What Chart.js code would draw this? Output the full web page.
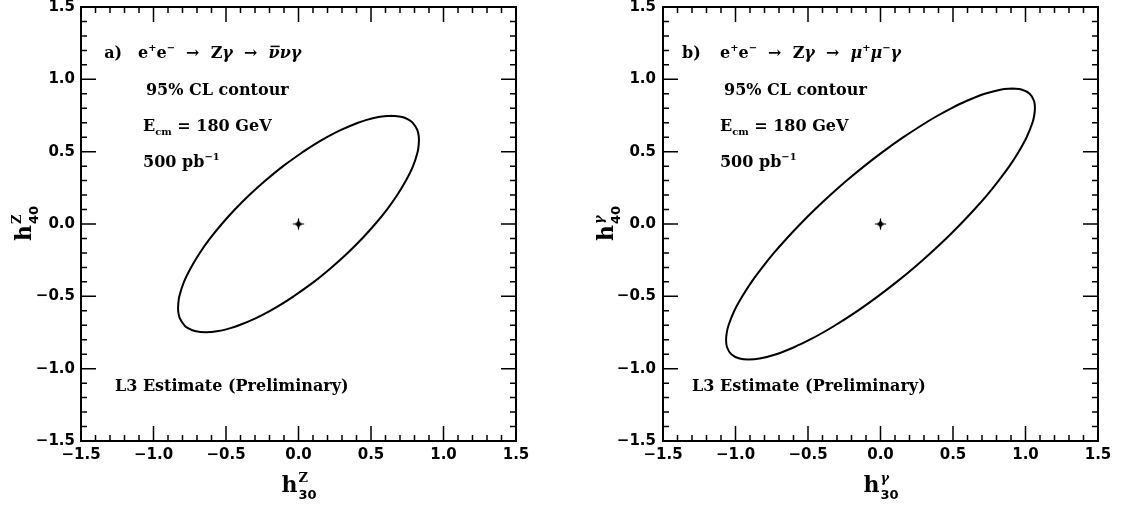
<!DOCTYPE html>
<html>
<head>
<meta charset="utf-8">
<script src="https://cdn.jsdelivr.net/npm/chart.js@4.4.1/dist/chart.umd.min.js"></script>
<style>
  body { margin: 0; background: #fff; width: 1125px; height: 512px; overflow: hidden; position: relative; }
  canvas { position: absolute; top: 0; }
</style>
</head>
<body>
<canvas id="grafico_z" width="562" height="512" style="left:0px"></canvas>
<canvas id="grafico_gama" width="563" height="512" style="left:562px"></canvas>
<script>
// Valores dos eixos (iguais nos dois paineis)
const ticksEixo = [-1.5, -1.0, -0.5, 0.0, 0.5, 1.0, 1.5];
const subdivisoes = 5; // marcas menores a cada 0.1

// Contorno 95% CL, painel a): h30Z (x) vs h40Z (y)
const contornoZ_x = [0.640, 0.715, 0.762, 0.787, 0.819, 0.830, 0.829, 0.822, 0.790,
                     0.741, 0.681, 0.610, 0.529, 0.439, 0.339, 0.228, 0.106,
                     -0.034, -0.111, -0.196, -0.293, -0.410, -0.470, -0.551, -0.640,
                     -0.715, -0.762, -0.787, -0.819, -0.830, -0.829, -0.822, -0.790,
                     -0.741, -0.681, -0.610, -0.529, -0.439, -0.339, -0.228, -0.106,
                     0.034, 0.111, 0.196, 0.293, 0.410, 0.470, 0.551, 0.640];
const contornoZ_y = [0.749, 0.74, 0.72, 0.70, 0.65, 0.60, 0.55, 0.50, 0.40,
                     0.30, 0.20, 0.10, 0.00, -0.10, -0.20, -0.30, -0.40,
                     -0.50, -0.55, -0.60, -0.65, -0.70, -0.72, -0.74, -0.749,
                     -0.74, -0.72, -0.70, -0.65, -0.60, -0.55, -0.50, -0.40,
                     -0.30, -0.20, -0.10, 0.00, 0.10, 0.20, 0.30, 0.40,
                     0.50, 0.55, 0.60, 0.65, 0.70, 0.72, 0.74, 0.749];

// Contorno 95% CL, painel b): h30gama (x) vs h40gama (y)
const contornoG_x = [0.910, 0.972, 1.029, 1.059, 1.065, 1.060, 1.048, 1.008, 0.953, 0.889,
                     0.815, 0.735, 0.647, 0.553, 0.453, 0.346, 0.233, 0.112, -0.018, -0.158,
                     -0.312, -0.396, -0.488, -0.592, -0.719, -0.834, -0.910, -0.972, -1.029, -1.059,
                     -1.065, -1.060, -1.048, -1.008, -0.953, -0.889, -0.815, -0.735, -0.647, -0.553,
                     -0.453, -0.346, -0.233, -0.112, 0.018, 0.158, 0.312, 0.396, 0.488, 0.592,
                     0.719, 0.834, 0.910];
const contornoG_y = [0.937, 0.93, 0.90, 0.85, 0.80, 0.75, 0.70, 0.60, 0.50, 0.40,
                     0.30, 0.20, 0.10, 0.00, -0.10, -0.20, -0.30, -0.40, -0.50, -0.60,
                     -0.70, -0.75, -0.80, -0.85, -0.90, -0.93, -0.937, -0.93, -0.90, -0.85,
                     -0.80, -0.75, -0.70, -0.60, -0.50, -0.40, -0.30, -0.20, -0.10, 0.00,
                     0.10, 0.20, 0.30, 0.40, 0.50, 0.60, 0.70, 0.75, 0.80, 0.85,
                     0.90, 0.93, 0.937];

// Ponto do Modelo Padrao (centro)
const pontoMP_x = [0.0];
const pontoMP_y = [0.0];

const FONTE_TICK = '"DejaVu Sans", sans-serif';
const FONTE_TXT = '"DejaVu Serif", serif';

// Marcador em forma de estrela de 4 pontas
function criarEstrela() {
    const c = document.createElement('canvas');
    c.width = 13; c.height = 13;
    const g = c.getContext('2d');
    g.fillStyle = '#000';
    g.beginPath();
    g.moveTo(6.5, 0);
    g.quadraticCurveTo(6.5, 6.5, 13, 6.5);
    g.quadraticCurveTo(6.5, 6.5, 6.5, 13);
    g.quadraticCurveTo(6.5, 6.5, 0, 6.5);
    g.quadraticCurveTo(6.5, 6.5, 6.5, 0);
    g.fill();
    g.strokeStyle = '#000';
    g.lineWidth = 1.2;
    g.beginPath();
    g.moveTo(6.5, 1); g.lineTo(6.5, 12);
    g.moveTo(1, 6.5); g.lineTo(12, 6.5);
    g.stroke();
    return c;
}

// Escreve um texto com pedacos em sobrescrito / subscrito
function escreveRico(ctx, x, y, partes, tam) {
    let cx = x;
    for (const p of partes) {
        const t = typeof p === 'string' ? { t: p } : p;
        let s = tam, dy = 0;
        if (t.sup) { s = tam * 0.62; dy = -tam * 0.42; }
        if (t.sub) { s = tam * 0.62; dy = tam * 0.28; }
        ctx.font = (t.it ? 'italic ' : '') + 'bold ' + s + 'px ' + FONTE_TXT;
        ctx.fillText(t.t, cx, y + dy);
        const w = ctx.measureText(t.t).width;
        if (t.barra) {
            ctx.save();
            ctx.lineWidth = 1.5;
            ctx.beginPath();
            ctx.moveTo(cx + 2, y - tam * 0.72);
            ctx.lineTo(cx + w, y - tam * 0.72);
            ctx.stroke();
            ctx.restore();
        }
        cx += w;
    }
}

// Titulo de eixo do tipo h com indice em cima e em baixo
function escreveH(ctx, x, y, sup, sub) {
    ctx.font = 'bold 22px ' + FONTE_TXT;
    const wh = ctx.measureText('h').width;
    ctx.font = 'bold 13px ' + FONTE_TICK;
    const ws = Math.max(ctx.measureText(sup).width, ctx.measureText(sub).width);
    const x0 = x - (wh + ws) / 2;
    ctx.font = 'bold 22px ' + FONTE_TXT;
    ctx.fillText('h', x0, y);
    ctx.font = (sup === 'γ' ? 'italic ' : '') + 'bold 13px ' + FONTE_TXT;
    ctx.fillText(sup, x0 + wh + 1, y - 10);
    ctx.font = 'bold 13px ' + FONTE_TICK;
    ctx.fillText(sub, x0 + wh + 1, y + 7);
}

function criarPluginMoldura(cfg) {
    return {
        id: 'moldura_' + cfg.nome,
        afterDraw(chart) {
            const { ctx, chartArea: a, scales: { x, y } } = chart;
            ctx.save();
            ctx.strokeStyle = '#000';
            ctx.fillStyle = '#000';

            // marcas para dentro nos quatro lados
            ctx.lineWidth = 1.5;
            ctx.beginPath();
            const passo = (ticksEixo[1] - ticksEixo[0]) / subdivisoes;
            const n = (ticksEixo.length - 1) * subdivisoes;
            for (let i = 1; i < n; i++) {
                const v = ticksEixo[0] + i * passo;
                const len = i % subdivisoes === 0 ? 15 : 6;
                const px = x.getPixelForValue(v);
                const py = y.getPixelForValue(v);
                ctx.moveTo(px, a.bottom); ctx.lineTo(px, a.bottom - len);
                ctx.moveTo(px, a.top); ctx.lineTo(px, a.top + len);
                ctx.moveTo(a.left, py); ctx.lineTo(a.left + len, py);
                ctx.moveTo(a.right, py); ctx.lineTo(a.right - len, py);
            }
            ctx.stroke();

            ctx.lineWidth = 2;
            ctx.strokeRect(a.left, a.top, a.right - a.left, a.bottom - a.top);

            // textos dentro do painel
            ctx.textAlign = 'left';
            ctx.textBaseline = 'alphabetic';
            for (const t of cfg.textos) {
                escreveRico(ctx, x.getPixelForValue(t.x), y.getPixelForValue(t.y), t.partes, 16);
            }

            // titulos dos eixos
            escreveH(ctx, (a.left + a.right) / 2, 492, cfg.letra, '30');
            ctx.translate(cfg.tituloY, (a.top + a.bottom) / 2);
            ctx.rotate(-Math.PI / 2);
            escreveH(ctx, 0, 0, cfg.letra, '40');
            ctx.restore();
        }
    };
}

function formataTick(v) {
    return v.toFixed(1).replace('-', '\u2212');
}

function criarPainel(id, xs, ys, cfg) {
    const ctx = document.getElementById(id).getContext('2d');
    const contorno = xs.map((v, i) => ({ x: v, y: ys[i] }));
    const centro = pontoMP_x.map((v, i) => ({ x: v, y: pontoMP_y[i] }));

    const eixo = () => ({
        type: 'linear',
        min: ticksEixo[0],
        max: ticksEixo[ticksEixo.length - 1],
        afterBuildTicks: s => { s.ticks = ticksEixo.map(v => ({ value: v })); },
        grid: { display: false, drawTicks: false },
        border: { display: false },
        ticks: {
            autoSkip: false,
            maxRotation: 0,
            color: '#000',
            font: { family: FONTE_TICK, size: 15, weight: 'bold' },
            callback: formataTick
        }
    });

    const escX = eixo();
    escX.ticks.padding = 5;
    escX.afterFit = s => { s.height = 512 - 441; s.paddingLeft = 0; s.paddingRight = 0; };
    const escY = eixo();
    escY.ticks.padding = cfg.padY;
    escY.afterFit = s => { s.width = cfg.esquerda; s.paddingTop = 0; s.paddingBottom = 0; };

    new Chart(ctx, {
        type: 'scatter',
        data: {
            datasets: [{
                label: 'Contorno 95% CL',
                data: contorno,
                showLine: true,
                borderColor: '#000',
                borderWidth: 2,
                pointRadius: 0,
                tension: 0.35,
                fill: false
            }, {
                label: 'Modelo Padrao',
                data: centro,
                pointStyle: criarEstrela(),
                pointRadius: 6
            }]
        },
        options: {
            responsive: false,
            animation: false,
            layout: { padding: { left: 0, top: 6, right: cfg.direita, bottom: 0 } },
            plugins: {
                legend: { display: false },
                tooltip: { enabled: false }
            },
            scales: { x: escX, y: escY }
        },
        plugins: [criarPluginMoldura(cfg)]
    });
}

// Painel a)
criarPainel('grafico_z', contornoZ_x, contornoZ_y, {
    nome: 'z', letra: 'Z', esquerda: 81, direita: 46, padY: 6, tituloY: 31,
    textos: [
        { x: -1.34, y: 1.148, partes: ['a)'] },
        { x: -1.107, y: 1.148, partes: ['e', { t: '+', sup: 1 }, 'e', { t: '\u2212', sup: 1 }, '  \u2192  Z', { t: 'γ', it: 1 }, '  \u2192  ', { t: 'ν', it: 1, barra: 1 }, { t: 'νγ', it: 1 }] },
        { x: -1.052, y: 0.893, partes: ['95% CL contour'] },
        { x: -1.072, y: 0.645, partes: ['E', { t: 'cm', sub: 1 }, ' = 180 GeV'] },
        { x: -1.072, y: 0.397, partes: ['500 pb', { t: '\u22121', sup: 1 }] },
        { x: -1.266, y: -1.155, partes: ['L3 Estimate (Preliminary)'] }
    ]
});

// Painel b)
criarPainel('grafico_gama', contornoG_x, contornoG_y, {
    nome: 'g', letra: 'γ', esquerda: 101, direita: 27, padY: 7, tituloY: 51,
    textos: [
        { x: -1.369, y: 1.148, partes: ['b)'] },
        { x: -1.107, y: 1.148, partes: ['e', { t: '+', sup: 1 }, 'e', { t: '\u2212', sup: 1 }, '  \u2192  Z', { t: 'γ', it: 1 }, '  \u2192  ', { t: 'μ', it: 1 }, { t: '+', sup: 1 }, { t: 'μ', it: 1 }, { t: '\u2212', sup: 1 }, { t: 'γ', it: 1 }] },
        { x: -1.079, y: 0.893, partes: ['95% CL contour'] },
        { x: -1.107, y: 0.645, partes: ['E', { t: 'cm', sub: 1 }, ' = 180 GeV'] },
        { x: -1.107, y: 0.397, partes: ['500 pb', { t: '\u22121', sup: 1 }] },
        { x: -1.300, y: -1.155, partes: ['L3 Estimate (Preliminary)'] }
    ]
});
</script>
</body>
</html>
